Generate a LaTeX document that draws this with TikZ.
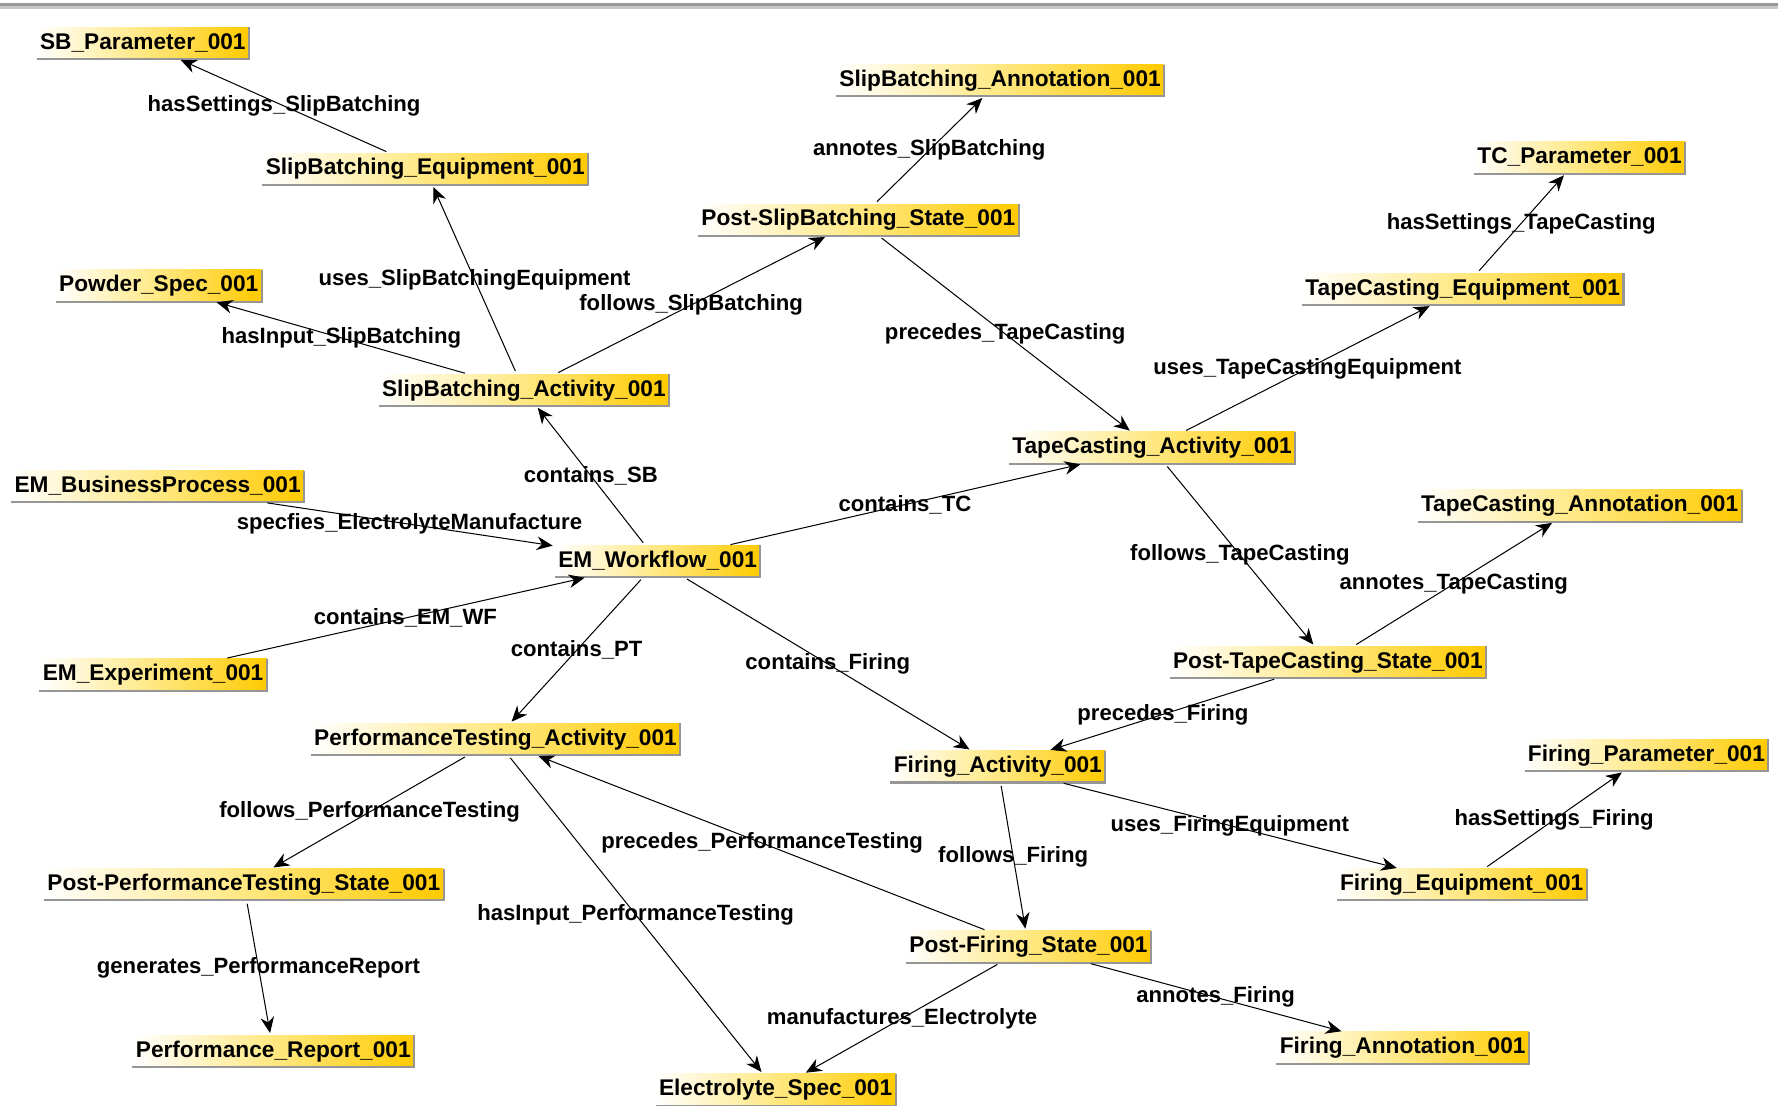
\documentclass[tikz,border=0pt]{standalone}
\usepackage{fontspec}
\setmainfont{Liberation Sans}
\usetikzlibrary{arrows.meta}
\definecolor{gold}{RGB}{255,202,0}
\definecolor{paleyellow}{RGB}{255,232,130}
\definecolor{bevel}{RGB}{150,150,150}
\begin{document}
\begin{tikzpicture}[x=1pt,y=-1pt,
  concept/.style={rectangle, draw=none, left color=white, right color=gold, middle color=paleyellow,
    font=\fontsize{20}{24}\selectfont\bfseries, text height=14.5pt, text depth=4pt,
    inner xsep=3pt, inner ysep=4.8pt, outer sep=0pt},
  rel/.style={-{Stealth[length=14pt,width=12pt,inset=4.5pt]}, line width=0.9pt, black,
    shorten >=2pt, shorten <=3pt},
  lbl/.style={font=\fontsize{19.5}{23}\selectfont\bfseries, inner sep=0pt, text=black}
]
\useasboundingbox (0,0) rectangle (1568,975);
\fill[white] (0,0) rectangle (1568,975);
% panel border along the top
\fill[gray!80] (0,3) rectangle (1568,5.5);
\fill[gray!45] (0,5.5) rectangle (1568,8);

% concepts
\node[concept] (sbp)   at (126,38)  {SB\_Parameter\_001};
\node[concept] (sbe)   at (375,149) {SlipBatching\_Equipment\_001};
\node[concept] (sba)   at (882,71)  {SlipBatching\_Annotation\_001};
\node[concept] (psb)   at (757,194) {Post-SlipBatching\_State\_001};
\node[concept] (tcp)   at (1393,139) {TC\_Parameter\_001};
\node[concept] (tce)   at (1290,255) {TapeCasting\_Equipment\_001};
\node[concept] (pow)   at (140,252) {Powder\_Spec\_001};
\node[concept] (sbact) at (462,344) {SlipBatching\_Activity\_001};
\node[concept] (tcact) at (1016,395) {TapeCasting\_Activity\_001};
\node[concept] (bp)    at (139,429) {EM\_BusinessProcess\_001};
\node[concept] (tca)   at (1393,446) {TapeCasting\_Annotation\_001};
\node[concept] (wf)    at (580,495) {EM\_Workflow\_001};
\node[concept] (exper) at (135,595) {EM\_Experiment\_001};
\node[concept] (ptc)   at (1171,584) {Post-TapeCasting\_State\_001};
\node[concept] (ptact) at (437,652) {PerformanceTesting\_Activity\_001};
\node[concept] (fact)  at (880,676) {Firing\_Activity\_001};
\node[concept] (fpar)  at (1452,666) {Firing\_Parameter\_001};
\node[concept] (ppt)   at (215,780) {Post-PerformanceTesting\_State\_001};
\node[concept] (feq)   at (1289,780) {Firing\_Equipment\_001};
\node[concept] (pf)    at (907,835) {Post-Firing\_State\_001};
\node[concept] (rep)   at (241,927) {Performance\_Report\_001};
\node[concept] (fan)   at (1237,924) {Firing\_Annotation\_001};
\node[concept] (es)    at (684,961) {Electrolyte\_Spec\_001};

% raised edge on every box
\foreach \n in {sbp,sbe,sba,psb,tcp,tce,pow,sbact,tcact,bp,tca,wf,exper,ptc,ptact,fact,fpar,ppt,feq,pf,rep,fan,es}
  \draw[bevel, line width=1.8pt] (\n.south west) -- (\n.south east) -- (\n.north east);

% relations
\draw[rel] (sbe)   -- (sbp)   node[lbl, midway] {hasSettings\_SlipBatching};
\draw[rel] (sbact) -- (sbe)   node[lbl, midway] {uses\_SlipBatchingEquipment};
\draw[rel] (sbact) -- (pow)   node[lbl, midway] {hasInput\_SlipBatching};
\draw[rel] (sbact) -- (psb)   node[lbl, midway] {follows\_SlipBatching};
\draw[rel] (psb)   -- (sba)   node[lbl, midway] {annotes\_SlipBatching};
\draw[rel] (psb)   -- (tcact) node[lbl, midway] {precedes\_TapeCasting};
\draw[rel] (tcact) -- (tce)   node[lbl, midway] {uses\_TapeCastingEquipment};
\draw[rel] (tce)   -- (tcp)   node[lbl, midway] {hasSettings\_TapeCasting};
\draw[rel] (wf)    -- (sbact) node[lbl, midway] {contains\_SB};
\draw[rel] (bp)    -- (wf)    node[lbl, midway] {specfies\_ElectrolyteManufacture};
\draw[rel] (wf)    -- (tcact) node[lbl, midway] {contains\_TC};
\draw[rel] (tcact) -- (ptc)   node[lbl, midway] {follows\_TapeCasting};
\draw[rel] (ptc)   -- (tca)   node[lbl, midway] {annotes\_TapeCasting};
\draw[rel] (exper) -- (wf)    node[lbl, midway] {contains\_EM\_WF};
\draw[rel] (wf)    -- (ptact) node[lbl, midway] {contains\_PT};
\draw[rel] (wf)    -- (fact)  node[lbl, midway] {contains\_Firing};
\draw[rel] (ptc)   -- (fact)  node[lbl, midway] {precedes\_Firing};
\draw[rel] (ptact) -- (ppt)   node[lbl, midway] {follows\_PerformanceTesting};
\draw[rel] (pf)    -- (ptact) node[lbl, midway] {precedes\_PerformanceTesting};
\draw[rel] (ptact) -- (es)    node[lbl, midway] {hasInput\_PerformanceTesting};
\draw[rel] (fact)  -- (pf)    node[lbl, midway] {follows\_Firing};
\draw[rel] (fact)  -- (feq)   node[lbl, midway] {uses\_FiringEquipment};
\draw[rel] (feq)   -- (fpar)  node[lbl, midway] {hasSettings\_Firing};
\draw[rel] (ppt)   -- (rep)   node[lbl, midway] {generates\_PerformanceReport};
\draw[rel] (pf)    -- (es)    node[lbl, midway] {manufactures\_Electrolyte};
\draw[rel] (pf)    -- (fan)   node[lbl, midway] {annotes\_Firing};
\end{tikzpicture}
\end{document}
